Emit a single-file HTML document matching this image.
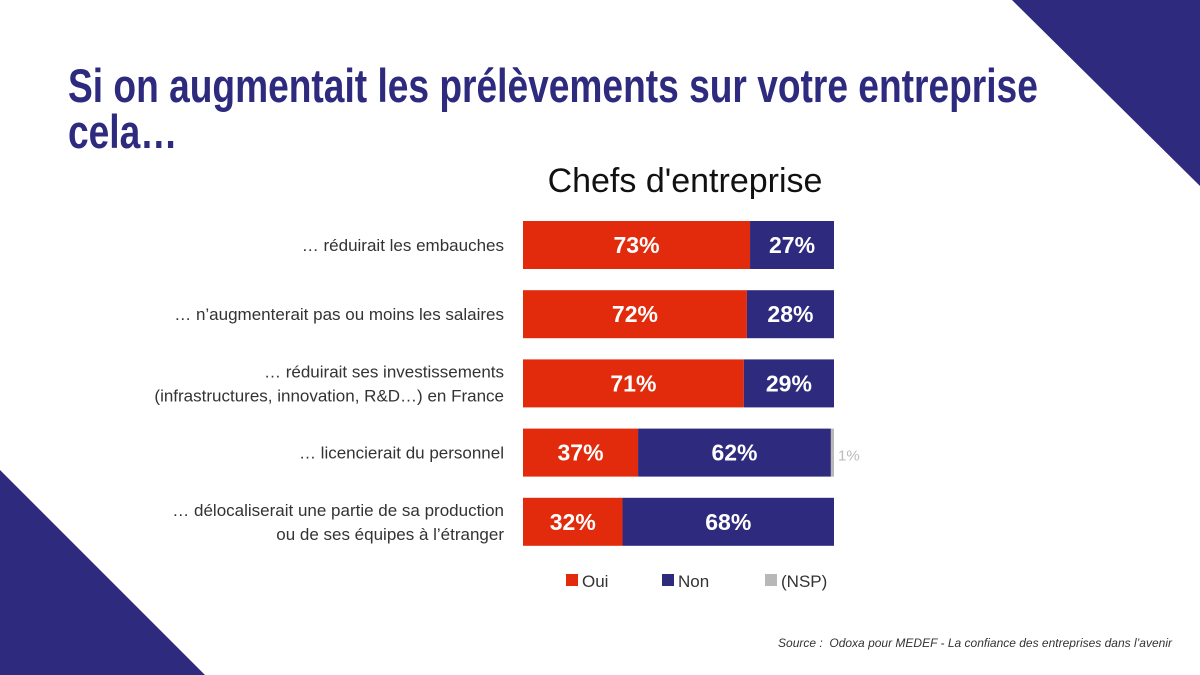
<!DOCTYPE html>
<html><head><meta charset="utf-8"><style>
body{margin:0;width:1200px;height:675px;background:#fff;overflow:hidden;position:relative;font-family:"Liberation Sans",sans-serif}
#title{position:absolute;left:68px;top:63px;white-space:nowrap;font-family:"Liberation Sans",sans-serif;font-weight:bold;font-size:47px;line-height:46px;color:#2e2a7e;transform:scaleX(0.79);transform-origin:left}
#sub{position:absolute;left:523px;width:324px;top:162px;text-align:center;font-size:34px;color:#111}
#src{position:absolute;right:28px;top:636px;font-size:12px;font-style:italic;color:#333}
</style></head><body>
<svg width="1200" height="675" style="position:absolute;left:0;top:0">
<polygon points="1012,0 1200,0 1200,186" fill="#2e2a7e"/>
<polygon points="0,470 0,675 205,675" fill="#2e2a7e"/>
</svg>
<div id="title">Si on augmentait les prélèvements sur votre entreprise<br>cela…</div>
<div id="sub">Chefs d'entreprise</div>
<svg id="chart" width="1200" height="675" style="position:absolute;left:0;top:0"></svg>
<div id="src">Source :&nbsp; Odoxa pour MEDEF - La confiance des entreprises dans l’avenir</div>
<script>
const categories=[["… réduirait les embauches"],["… n’augmenterait pas ou moins les salaires"],["… réduirait ses investissements","(infrastructures, innovation, R&D…) en France"],["… licencierait du personnel"],["… délocaliserait une partie de sa production","ou de ses équipes à l’étranger"]];
const oui=[73,72,71,37,32];
const non=[27,28,29,62,68];
const nsp=[0,0,0,1,0];
const NS="http://www.w3.org/2000/svg";
const svg=document.getElementById('chart');
const x0=523,W=311;
function xs(v){return v/100*W;}
function rowY(i){return 221+i*69.2;}
const BH=48;
function mk(t,a){const e=document.createElementNS(NS,t);for(const k in a)e.setAttribute(k,a[k]);svg.appendChild(e);return e;}
categories.forEach((c,i)=>{
 const y=rowY(i);
 const lab=mk('text',{x:504,'text-anchor':'end','font-size':17,fill:'#333','font-family':'"Liberation Sans",sans-serif'});
 
 
 c.forEach((l,j)=>{const ts=document.createElementNS(NS,'tspan');ts.setAttribute('x',504);ts.setAttribute('y',y+BH/2+6+(j-(c.length-1)/2)*24);ts.textContent=l;lab.appendChild(ts);});
 let x=x0;
 [[oui[i],'#e22b0c','bar-oui'],[non[i],'#2e2a7e','bar-non'],[nsp[i],'#b8b8b8','bar-nsp']].forEach(([v,col,nm])=>{
  if(v<=0)return;
  const r=mk('rect',{x:x,y:y,width:xs(v),height:BH,fill:col});
  
  
  if(nm!=='bar-nsp'){
   const t=mk('text',{x:x+xs(v)/2,y:y+BH/2+8,'text-anchor':'middle','font-size':23,'font-weight':'bold',fill:'#fff'});
   t.textContent=v+'%';
   
   
  }else{
   const t=mk('text',{x:x+xs(v)+4,y:y+BH/2+8,'font-size':15,fill:'#bbb'});
   t.textContent=v+'%';
   
   
  }
  x+=xs(v);
 });
});
[['Oui','#e22b0c',566],['Non','#2e2a7e',662],['(NSP)','#b8b8b8',765]].forEach(([n,c,lx])=>{
 const r=mk('rect',{x:lx,y:574,width:12,height:12,fill:c});
 
 
 const t=mk('text',{x:lx+16,y:587,'font-size':17,fill:'#333'});
 t.textContent=n;
 
 
});
</script>
</body></html>
